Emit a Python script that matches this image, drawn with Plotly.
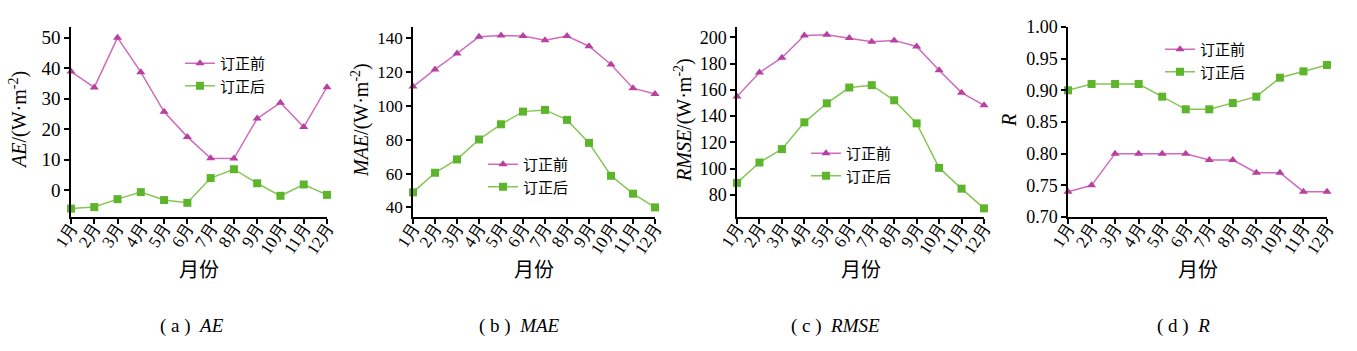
import plotly.graph_objects as go

months = ["1月", "2月", "3月", "4月", "5月", "6月", "7月", "8月", "9月", "10月", "11月", "12月"]

ae_before = [38.9, 33.7, 50.0, 38.7, 25.7, 17.5, 10.5, 10.4, 23.5, 28.7, 20.7, 33.8]
ae_after = [-6.0, -5.5, -2.9, -0.6, -3.2, -4.1, 4.0, 6.9, 2.3, -1.8, 1.9, -1.5]

mae_before = [111.5, 121.7, 131.1, 141.0, 141.8, 141.4, 139.0, 141.4, 135.4, 124.6, 110.6, 107.1]
mae_after = [48.9, 60.5, 68.4, 80.2, 89.2, 96.7, 97.7, 91.8, 78.2, 58.7, 48.1, 40.0]

rmse_before = [154.9, 173.2, 184.5, 201.5, 202.0, 199.5, 196.7, 197.7, 193.1, 175.0, 157.9, 148.3]
rmse_after = [89.2, 104.7, 114.9, 135.3, 149.8, 161.8, 163.6, 152.1, 134.5, 100.6, 84.8, 69.8]

r_before = [0.74, 0.75, 0.80, 0.80, 0.80, 0.80, 0.79, 0.79, 0.77, 0.77, 0.74, 0.74]
r_after = [0.90, 0.91, 0.91, 0.91, 0.89, 0.87, 0.87, 0.88, 0.89, 0.92, 0.93, 0.94]

name_before = "订正前"
name_after = "订正后"
x_title = "月份"

W, H = 1357, 351
PINK_L, PINK_M = "#CF6BBE", "#B8409F"
GREEN_L, GREEN_M = "#84C654", "#5DB52C"
SERIF = "Liberation Serif, Times New Roman, serif"
CJK = "Noto Sans CJK SC, sans-serif"

def px_x(x):
    return x / W

def px_y(y):
    return 1 - y / H

panels = [
    dict(before=ae_before, after=ae_after, xd=(71, 327), yr=[-8.75, 53.5], dtick=10, fmt=None, tfs=19,
         leg=(180, 47), ytitle="<i>AE</i>/(W·m<sup>-2</sup>)", ytx=18,
         cap="(&nbsp;a&nbsp;)&nbsp;&nbsp;<i>AE</i>", capx=192),
    dict(before=mae_before, after=mae_after, xd=(413, 655), yr=[34.3, 146.8], dtick=20, fmt=None, tfs=17,
         leg=(483, 148), ytitle="<i>MAE</i>/(W·m<sup>-2</sup>)", ytx=360,
         cap="(&nbsp;b&nbsp;)&nbsp;&nbsp;<i>MAE</i>", capx=519),
    dict(before=rmse_before, after=rmse_after, xd=(737, 984), yr=[63.2, 207.9], dtick=20, fmt=None, tfs=18,
         leg=(806, 137), ytitle="<i>RMSE</i>/(W·m<sup>-2</sup>)", ytx=683,
         cap="(&nbsp;c&nbsp;)&nbsp;&nbsp;<i>RMSE</i>", capx=835),
    dict(before=r_before, after=r_after, xd=(1068, 1327), yr=[0.70, 1.00], dtick=0.05, fmt=".2f", tfs=18,
         leg=(1160, 33), ytitle="<i>R</i>", ytx=1009,
         cap="(&nbsp;d&nbsp;)&nbsp;&nbsp;<i>R</i>", capx=1183),
]

fig = go.Figure()
annotations = []
layout = {}
for i, p in enumerate(panels, start=1):
    sfx = "" if i == 1 else str(i)
    legname = "legend" if i == 1 else f"legend{i}"
    fig.add_trace(go.Scatter(
        x=months, y=p["before"], name=name_before, mode="lines+markers",
        line=dict(color=PINK_L, width=1.5),
        marker=dict(symbol="triangle-up", size=8, color=PINK_M),
        xaxis=f"x{sfx}", yaxis=f"y{sfx}", legend=legname, cliponaxis=False))
    fig.add_trace(go.Scatter(
        x=months, y=p["after"], name=name_after, mode="lines+markers",
        line=dict(color=GREEN_L, width=1.5),
        marker=dict(symbol="square", size=8, color=GREEN_M),
        xaxis=f"x{sfx}", yaxis=f"y{sfx}", legend=legname, cliponaxis=False))
    layout[f"xaxis{sfx}"] = dict(
        domain=[px_x(p["xd"][0]), px_x(p["xd"][1])], anchor=f"y{sfx}", automargin=False,
        type="category", range=[0, 11], showline=True, linecolor="black", linewidth=1.5,
        ticks="outside", ticklen=5, tickwidth=1.5, tickcolor="black", showgrid=False, zeroline=False,
        tickangle=-57, ticklabelstandoff=-13, tickfont=dict(family=SERIF, size=17, color="black"))
    ya = dict(
        domain=[px_y(217), px_y(27)], anchor=f"x{sfx}", range=p["yr"], dtick=p["dtick"],
        automargin=False,
        showline=True, linecolor="black", linewidth=1.5, ticks="outside", ticklen=5, tickwidth=1.5,
        tickcolor="black", showgrid=False, zeroline=False,
        tickfont=dict(family=SERIF, size=p["tfs"], color="black"))
    if p["fmt"]:
        ya["tickformat"] = p["fmt"]
    layout[f"yaxis{sfx}"] = ya
    layout[legname] = dict(
        x=px_x(p["leg"][0]), y=px_y(p["leg"][1]), xanchor="left", yanchor="top",
        bgcolor="rgba(0,0,0,0)", font=dict(family=CJK, size=15, color="black"),
        tracegroupgap=0, itemwidth=30)
    annotations.append(dict(
        text=p["ytitle"], x=px_x(p["ytx"]), y=px_y(120), xref="paper", yref="paper",
        textangle=-90, showarrow=False, font=dict(family=SERIF, size=20, color="black"),
        xanchor="center", yanchor="middle"))
    annotations.append(dict(
        text=x_title, x=px_x((p["xd"][0] + p["xd"][1]) / 2), y=px_y(268), xref="paper", yref="paper",
        showarrow=False, font=dict(family=CJK, size=20, color="black"),
        xanchor="center", yanchor="middle"))
    annotations.append(dict(
        text=p["cap"], x=px_x(p["capx"]), y=px_y(326), xref="paper", yref="paper",
        showarrow=False, font=dict(family=SERIF, size=19, color="black"),
        xanchor="center", yanchor="middle"))

fig.update_layout(
    width=W, height=H, margin=dict(l=0, r=0, t=0, b=0, pad=0, autoexpand=False),
    paper_bgcolor="white", plot_bgcolor="white", showlegend=True,
    annotations=annotations, **layout)

fig.write_html("out.html")
